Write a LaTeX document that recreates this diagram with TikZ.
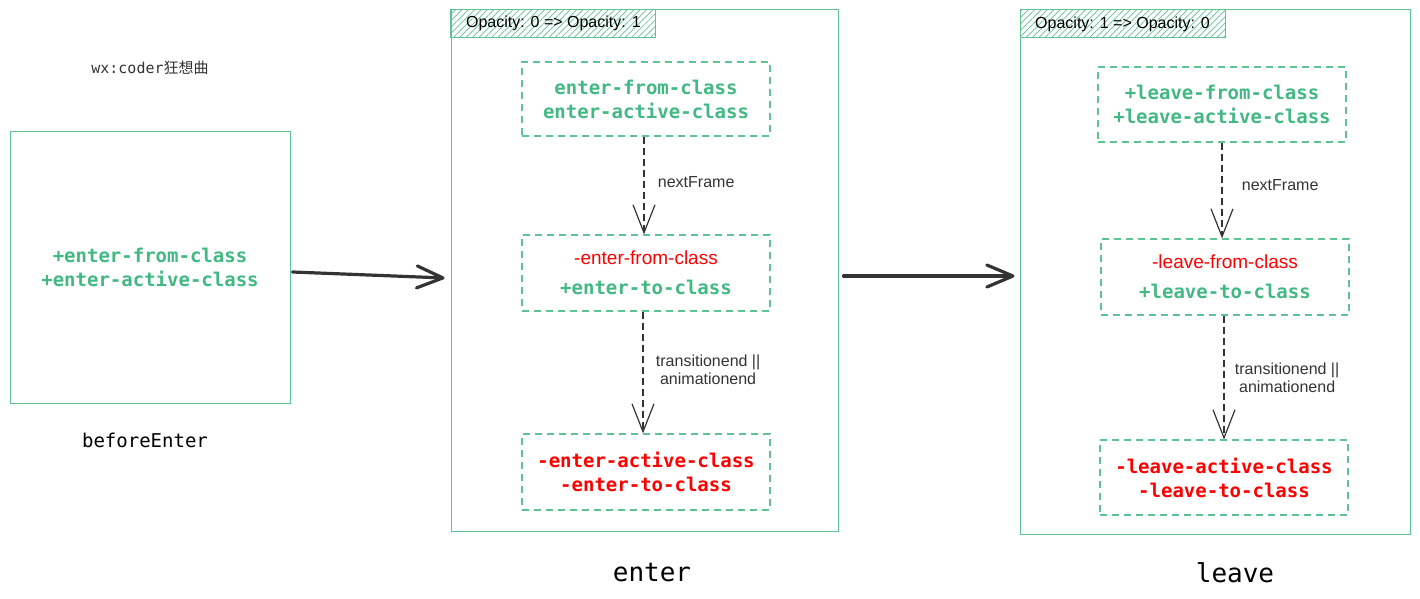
\documentclass[tikz,border=0pt]{standalone}
\usepackage{fontspec}
\setmainfont{Liberation Sans}
\setmonofont{DejaVu Sans Mono}
\newfontfamily\cjkfont{Noto Sans CJK SC}
\usetikzlibrary{arrows.meta,patterns.meta}
\definecolor{vuegreen}{HTML}{42B983}
\definecolor{framegreen}{HTML}{5FC293}
\definecolor{inkgray}{HTML}{333333}
\newcommand\addcls[1]{{\color{vuegreen}\ttfamily\bfseries #1}}
\newcommand\dropcls[1]{{\color{red}\ttfamily\bfseries #1}}
\newcommand\dropsans[1]{{\color{red}\fontsize{19}{24}\selectfont #1}}
\begin{document}
\begin{tikzpicture}[x=1pt,y=-1pt,
  frame/.style={draw=framegreen,line width=1pt,inner sep=0pt},
  tab/.style={draw=framegreen,line width=1pt,pattern={Lines[angle=45,distance=4.5pt,line width=0.7pt]},
    pattern color=framegreen,minimum width=205pt,minimum height=28pt,inner sep=0pt,
    anchor=north west,font=\fontsize{16}{19}\selectfont},
  classbox/.style={draw=framegreen,line width=1.2pt,dash pattern=on 7pt off 5pt,
    minimum width=248pt,minimum height=75pt,inner sep=0pt,align=center,
    font=\fontsize{19}{24}\selectfont},
  hook/.style={draw=inkgray,line width=1.2pt,dash pattern=on 7pt off 4pt,
    -{Straight Barb[length=28pt,width=22pt]}},
  hooklabel/.style={text=inkgray,font=\fontsize{16}{18}\selectfont,align=center,anchor=west},
  bigarrow/.style={draw=inkgray,line width=3.2pt,line cap=round,
    -{Straight Barb[length=26pt,width=22pt,round]}},
  caption/.style={font=\ttfamily\fontsize{19}{24}\selectfont}]
  \useasboundingbox (0,0) rectangle (1420,599);
  % signature
  \node[font=\ttfamily\fontsize{15}{18}\selectfont,text=inkgray] (sign) at (150,68) {wx:coder{\cjkfont 狂想曲}};
  % before enter
  \node[frame,minimum width=280pt,minimum height=272pt,align=center,
    font=\fontsize{19}{24}\selectfont] (before) at (150,267)
    {\addcls{+enter-from-class}\\\addcls{+enter-active-class}};
  \node[caption] (beforelabel) at (145,440) {beforeEnter};
  % enter
  \node[frame,minimum width=387pt,minimum height=521pt] (enterframe) at (644.5,270.5) {};
  \node[tab] (entertab) at (enterframe.north west) {Opacity: 0 => Opacity: 1};
  \node[classbox,minimum height=74pt] (e1) at (646,99)
    {\addcls{enter-from-class}\\\addcls{enter-active-class}};
  \node[classbox,minimum height=76pt] (e2) at (646,273)
    {\dropsans{-enter-from-class}\\[6pt]\addcls{+enter-to-class}};
  \node[classbox,minimum height=76pt] (e3) at (646,472)
    {\dropcls{-enter-active-class}\\\dropcls{-enter-to-class}};
  \draw[hook] ([xshift=-2pt]e1.south) -- ([xshift=-2pt]e2.north)
    node[hooklabel,midway,xshift=10pt,yshift=3pt] {nextFrame};
  \draw[hook] ([xshift=-3pt]e2.south) -- ([xshift=-3pt]e3.north)
    node[hooklabel,midway,xshift=9pt,yshift=3pt] {transitionend \textbar\textbar\\animationend};
  \node[caption,font=\ttfamily\fontsize{26}{30}\selectfont] (enterlabel) at (652,573) {enter};
  % leave
  \node[frame,minimum width=390pt,minimum height=524pt] (leaveframe) at (1215,272) {};
  \node[tab] (leavetab) at (leaveframe.north west) {Opacity: 1 => Opacity: 0};
  \node[classbox] (l1) at (1222,104.5)
    {\addcls{+leave-from-class}\\\addcls{+leave-active-class}};
  \node[classbox,minimum height=76pt] (l2) at (1225,277)
    {\dropsans{-leave-from-class}\\[6pt]\addcls{+leave-to-class}};
  \node[classbox] (l3) at (1224,477.5)
    {\dropcls{-leave-active-class}\\\dropcls{-leave-to-class}};
  \draw[hook] (l1.south) -- (l2.north -| l1.south)
    node[hooklabel,midway,xshift=16pt,yshift=5pt] {nextFrame};
  \draw[hook] (l2.south -| l3.north) -- (l3.north)
    node[hooklabel,midway,xshift=7pt,yshift=0pt] {transitionend \textbar\textbar\\animationend};
  \node[caption,font=\ttfamily\fontsize{26}{30}\selectfont] (leavelabel) at (1235,573) {leave};
  % flow
  \draw[bigarrow] ([shift={(2,5)}]before.east) -- ([shift={(-6,7.5)}]enterframe.west);
  \draw[bigarrow] ([shift={(5,5.5)}]enterframe.east) -- ([shift={(-5,4)}]leaveframe.west);
\end{tikzpicture}
\end{document}
